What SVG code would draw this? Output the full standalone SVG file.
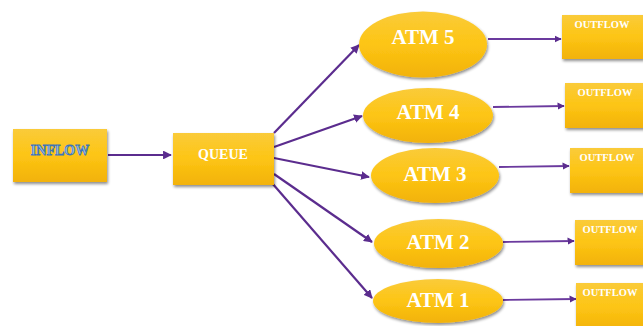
<svg xmlns="http://www.w3.org/2000/svg" width="643" height="326" viewBox="0 0 643 326">
<defs>
<linearGradient id="g" x1="0" y1="0" x2="0" y2="1">
<stop offset="0" stop-color="#FACB3A"/>
<stop offset="0.5" stop-color="#FDC514"/>
<stop offset="1" stop-color="#F2B20A"/>
</linearGradient>
<filter id="sh" x="-10%" y="-10%" width="125%" height="135%">
<feGaussianBlur in="SourceAlpha" stdDeviation="1.5"/>
<feOffset dx="1" dy="2" result="b"/>
<feComponentTransfer><feFuncA type="linear" slope="0.45"/></feComponentTransfer>
<feMerge><feMergeNode/><feMergeNode in="SourceGraphic"/></feMerge>
</filter>
<marker id="ah" viewBox="0 0 10 10" refX="9" refY="5" markerWidth="4" markerHeight="4" orient="auto" markerUnits="strokeWidth">
<path d="M0,0 L10,5 L0,10 z" fill="#5B2C8E"/>
</marker>
</defs>
<style>
.box{fill:url(#g);filter:url(#sh);}
.c{stroke:#5B2C8E;stroke-width:2.2;fill:none;marker-end:url(#ah);}
.c2{stroke:#6B3A9E;stroke-width:1.8;fill:none;marker-end:url(#ah);}
.atm{font-family:"Liberation Serif",serif;font-weight:bold;font-size:21px;fill:#fff;text-anchor:middle;}
.out{font-family:"Liberation Serif",serif;font-weight:bold;font-size:10.5px;fill:#fff;text-anchor:middle;}
.q{font-family:"Liberation Serif",serif;font-weight:bold;font-size:14px;fill:#fff;text-anchor:middle;}
.in{font-family:"Liberation Serif",serif;font-weight:bold;font-size:14px;fill:#9DC3E6;stroke:#3E74B5;stroke-width:0.8;text-anchor:middle;}
</style>
<rect width="643" height="326" fill="#fff"/>
<g id="connectors">
<line class="c" x1="108" y1="155" x2="171" y2="155"/>
<line class="c" x1="274" y1="133" x2="359" y2="45"/>
<line class="c" x1="274" y1="147" x2="362" y2="116"/>
<line class="c" x1="274" y1="158" x2="369" y2="177"/>
<line class="c" x1="274" y1="174" x2="372" y2="242"/>
<line class="c" x1="272" y1="183" x2="372" y2="298"/>
<line class="c2" x1="488" y1="39" x2="561" y2="39"/>
<line class="c2" x1="493" y1="107" x2="564" y2="106"/>
<line class="c2" x1="499" y1="167" x2="569" y2="166"/>
<line class="c2" x1="503" y1="242" x2="574" y2="241"/>
<line class="c2" x1="503" y1="300" x2="576" y2="299"/>
</g>
<g id="inflow"><rect class="box" x="13" y="129" width="94" height="53"/><text class="in" x="60" y="155">INFLOW</text></g>
<g id="queue"><rect class="box" x="173" y="133" width="101" height="52"/><text class="q" x="223" y="159">QUEUE</text></g>
<g id="atm5"><ellipse class="box" cx="423" cy="44.5" rx="64" ry="33"/><text class="atm" x="423" y="44">ATM 5</text></g>
<g id="atm4"><ellipse class="box" cx="428" cy="115.5" rx="65" ry="27.5"/><text class="atm" x="428" y="119">ATM 4</text></g>
<g id="atm3"><ellipse class="box" cx="435" cy="175.5" rx="64" ry="27.5"/><text class="atm" x="435" y="181">ATM 3</text></g>
<g id="atm2"><ellipse class="box" cx="438.5" cy="243.5" rx="64.5" ry="24.5"/><text class="atm" x="438" y="249">ATM 2</text></g>
<g id="atm1"><ellipse class="box" cx="438" cy="301" rx="65" ry="22"/><text class="atm" x="438" y="307">ATM 1</text></g>
<g id="out5"><rect class="box" x="562" y="15" width="82" height="44"/><text class="out" x="602" y="28">OUTFLOW</text></g>
<g id="out4"><rect class="box" x="565" y="83" width="80" height="45"/><text class="out" x="605" y="96">OUTFLOW</text></g>
<g id="out3"><rect class="box" x="570" y="148" width="76" height="45"/><text class="out" x="607" y="161">OUTFLOW</text></g>
<g id="out2"><rect class="box" x="575" y="220" width="72" height="45"/><text class="out" x="610" y="233">OUTFLOW</text></g>
<g id="out1"><rect class="box" x="576" y="283" width="72" height="48"/><text class="out" x="610" y="296">OUTFLOW</text></g>
</svg>
